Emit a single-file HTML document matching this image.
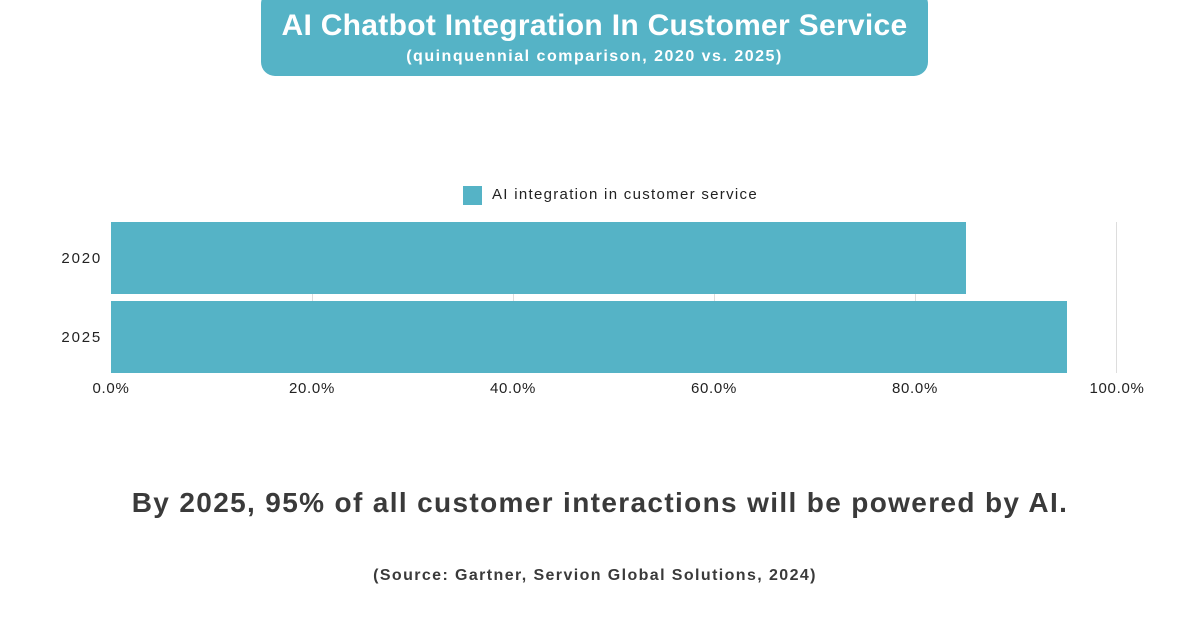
<!DOCTYPE html>
<html><head><meta charset="utf-8"><style>
body{margin:0;width:1200px;height:630px;background:#fff;position:relative;overflow:hidden;font-family:"Liberation Sans",sans-serif;color:#333}
.a{position:absolute}
.t{font-size:15px;color:#222;letter-spacing:0.7px;width:100px;text-align:center}
.y{font-size:15px;color:#222;letter-spacing:1.8px;width:60px;text-align:right}
</style></head><body>
<div class="a" style="left:261px;top:-10px;width:667px;height:86px;background:#55b3c6;border-radius:14px"></div>
<div class="a" style="left:261px;top:9px;width:667px;text-align:center;color:#fff;font-weight:bold;font-size:30px;letter-spacing:0.3px">AI Chatbot Integration In Customer Service</div>
<div class="a" style="left:261px;top:48px;width:667px;text-align:center;color:#fff;font-weight:bold;font-size:16px;letter-spacing:1.5px">(quinquennial comparison, 2020 vs. 2025)</div>
<div class="a" style="left:463px;top:186px;width:19px;height:19px;background:#55b3c6"></div>
<div class="a" style="left:492px;top:186px;font-size:15px;color:#222;letter-spacing:1.3px">AI integration in customer service</div>
<div class="a" style="left:312px;top:222px;width:1px;height:151px;background:#ddd"></div>
<div class="a" style="left:513px;top:222px;width:1px;height:151px;background:#ddd"></div>
<div class="a" style="left:714px;top:222px;width:1px;height:151px;background:#ddd"></div>
<div class="a" style="left:915px;top:222px;width:1px;height:151px;background:#ddd"></div>
<div class="a" style="left:1116px;top:222px;width:1px;height:151px;background:#ddd"></div>
<div class="a" style="left:111px;top:222px;width:855px;height:72px;background:#55b3c6"></div>
<div class="a" style="left:111px;top:301px;width:956px;height:72px;background:#55b3c6"></div>
<div class="a y" style="left:42px;top:250px">2020</div>
<div class="a y" style="left:42px;top:329px">2025</div>
<div class="a t" style="left:61px;top:380px">0.0%</div>
<div class="a t" style="left:262px;top:380px">20.0%</div>
<div class="a t" style="left:463px;top:380px">40.0%</div>
<div class="a t" style="left:664px;top:380px">60.0%</div>
<div class="a t" style="left:865px;top:380px">80.0%</div>
<div class="a t" style="left:1067px;top:380px">100.0%</div>
<div class="a" style="left:0;top:487px;width:1200px;text-align:center;font-weight:bold;font-size:28px;color:#3a3a3a;letter-spacing:1.35px">By 2025, 95% of all customer interactions will be powered by AI.</div>
<div class="a" style="left:0;top:567px;width:1190px;text-align:center;font-weight:bold;font-size:16px;color:#3a3a3a;letter-spacing:1.4px">(Source: Gartner, Servion Global Solutions, 2024)</div>
</body></html>
